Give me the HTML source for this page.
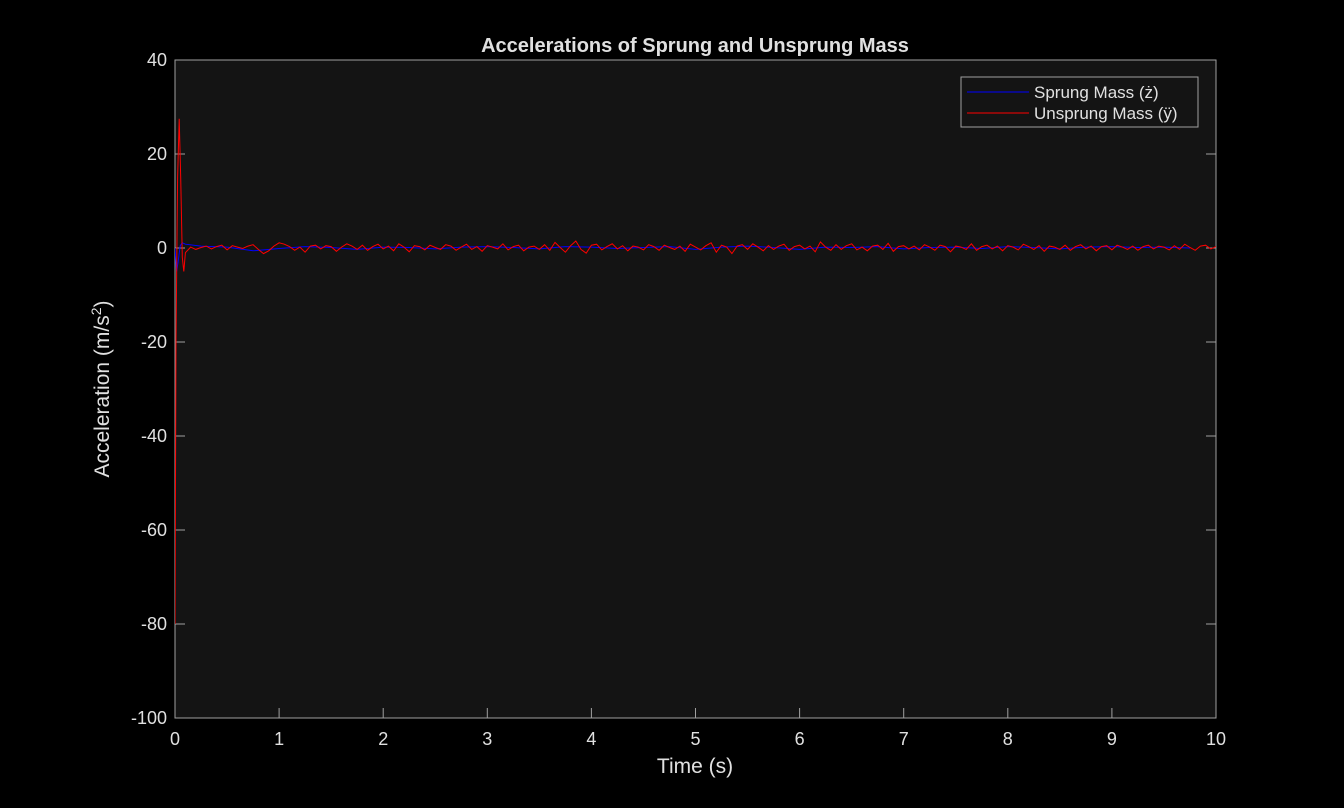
<!DOCTYPE html>
<html><head><meta charset="utf-8"><style>
body{margin:0;background:#000;width:1344px;height:808px;overflow:hidden;font-family:"Liberation Sans",Arial,sans-serif}
svg{display:block}
svg text{font-family:"Liberation Sans",Arial,sans-serif;fill:#e0e0e0}
</style></head><body>
<svg id="chart" width="1344" height="808" xmlns="http://www.w3.org/2000/svg">
<defs><clipPath id="clip"><rect x="175" y="60" width="1041" height="658"/></clipPath></defs>
<rect x="0" y="0" width="1344" height="808" fill="#000"/>
<rect x="175" y="60" width="1041" height="658" fill="#141414" stroke="#a0a0a0" stroke-width="1"/>
<g id="ticks"></g>
<g id="series" clip-path="url(#clip)"></g>
<text x="695" y="52" text-anchor="middle" font-size="20" font-weight="bold">Accelerations of Sprung and Unsprung Mass</text>
<text x="695" y="773" text-anchor="middle" font-size="21">Time (s)</text>
<text transform="translate(109,389) rotate(-90)" text-anchor="middle" font-size="21">Acceleration  (m/s<tspan baseline-shift="super" font-size="14">2</tspan>)</text>
<g>
<rect x="961" y="77" width="237" height="50" fill="#141414" stroke="#a0a0a0" stroke-width="1"/>
<line x1="967" y1="92" x2="1029" y2="92" stroke="#0000ff" stroke-width="1"/>
<text x="1034" y="98" font-size="17">Sprung Mass (ż)</text>
<line x1="967" y1="113" x2="1029" y2="113" stroke="#ff0000" stroke-width="1"/>
<text x="1034" y="119" font-size="17">Unsprung Mass (ÿ)</text>
</g>
</svg>
<script>
const xTicks=[0,1,2,3,4,5,6,7,8,9,10];
const yTicks=[40,20,0,-20,-40,-60,-80,-100];
const redStartT=[0,0.01,0.025,0.04,0.055,0.07,0.085,0.1];
const redStartV=[-80,-20,15,27.5,15,-2,-5,-1];
const blueStartT=[0,0.015,0.03,0.05,0.07,0.1];
const blueStartV=[0,-5,-3,0.5,1.1,0.8];
const redV=[0.2,-0.3,0.1,0.4,-0.2,0.3,0.6,-0.4,0.5,0.2,-0.1,0.4,0.7,-0.3,-1.2,-0.6,0.4,1.1,0.8,0.3,-0.5,0.2,-0.9,0.4,0.6,-0.2,0.5,0.3,-0.7,0.2,0.9,0.4,-0.3,0.6,-0.5,0.3,0.8,-0.2,0.4,-0.6,0.9,0.2,-0.8,0.5,0.3,-0.4,0.6,0.1,-0.3,0.7,0.4,-0.5,0.2,0.8,-0.3,0.3,-0.7,0.5,0.2,-0.2,0.9,-0.4,0.3,0.6,-0.6,0.2,0.4,-0.3,0.7,-0.5,1.2,0.1,-0.9,0.5,1.5,-0.3,-1.1,0.6,0.8,-0.4,0.3,0.9,-0.2,0.5,-0.6,0.4,0.2,-0.4,0.7,0.3,-0.5,0.6,0.1,-0.3,0.4,-0.7,0.8,0.2,-0.4,0.5,1.1,-0.9,0.6,0.2,-1.2,0.4,0.7,-0.3,0.9,0.2,-0.6,0.5,-0.3,0.4,0.8,-0.5,0.3,0.6,-0.2,0.4,-0.8,1.3,0.2,-0.5,0.7,-0.3,0.5,0.9,-0.4,0.2,-0.6,0.4,0.6,-0.3,1.0,-0.7,0.3,0.5,-0.2,0.4,-0.4,0.7,0.2,-0.5,0.6,0.3,-0.8,0.4,0.2,-0.3,0.9,-0.5,0.3,0.6,-0.2,0.4,-0.6,0.5,0.2,-0.4,0.8,0.3,-0.3,0.5,-0.7,0.4,0.2,-0.3,0.6,-0.5,0.3,0.7,-0.2,0.4,-0.6,0.3,0.5,-0.4,0.6,0.2,-0.3,0.4,-0.5,0.3,0.6,-0.2,0.4,0.2,-0.4,0.5,-0.3,0.8,0.1,-0.5,0.4,0.6,-0.2,0.3];
const blueV=[0.4,0.2,-0.6,-0.1,0.3,0.1,-0.3,0.2,0.1,-0.2,0.2,0.3,0.1,-0.2,0.3,0.2,-0.1,0.1,0.3,-0.3,0.2,0.4,0.1,-0.3,0.2,0.1,0.3,-0.2,0.1,0.2,-0.1,0.3,0.1,-0.2,0.2,0.3,0.1,0.2,0.0];
const X=t=>175+t*104.1;
const Y=v=>60+(40-v)*4.7;
const NS='http://www.w3.org/2000/svg';
const tg=document.getElementById('ticks');
xTicks.forEach(t=>{
 const l=document.createElementNS(NS,'line');
 
 
 l.setAttribute('x1',X(t));l.setAttribute('x2',X(t));l.setAttribute('y1',718);l.setAttribute('y2',708);
 l.setAttribute('stroke','#a0a0a0');tg.appendChild(l);
 const s=document.createElementNS(NS,'text');
 
 
 s.setAttribute('x',X(t));s.setAttribute('y',745);s.setAttribute('text-anchor','middle');s.setAttribute('font-size','18');
 s.textContent=t;tg.appendChild(s);
});
yTicks.forEach(v=>{
 const l=document.createElementNS(NS,'line');
 
 
 l.setAttribute('x1',175);l.setAttribute('x2',185);l.setAttribute('y1',Y(v));l.setAttribute('y2',Y(v));
 l.setAttribute('stroke','#a0a0a0');tg.appendChild(l);
 const l2=document.createElementNS(NS,'line');
 
 
 l2.setAttribute('x1',1206);l2.setAttribute('x2',1216);l2.setAttribute('y1',Y(v));l2.setAttribute('y2',Y(v));
 l2.setAttribute('stroke','#a0a0a0');tg.appendChild(l2);
 const s=document.createElementNS(NS,'text');
 
 
 s.setAttribute('x',167);s.setAttribute('y',Y(v)+6);s.setAttribute('text-anchor','end');s.setAttribute('font-size','18');
 s.textContent=v;tg.appendChild(s);
});
const sg=document.getElementById('series');
function path(ts,vs,color,name){
 const pts=ts.map((t,i)=>[t,vs[i]]).filter(p=>p[0]<=10.001);
 const p=document.createElementNS(NS,'path');
 
 
 p.setAttribute('d',pts.map((q,i)=>(i?'L':'M')+X(q[0]).toFixed(1)+','+Y(q[1]).toFixed(1)).join(''));
 p.setAttribute('fill','none');p.setAttribute('stroke',color);p.setAttribute('stroke-width','1');
 sg.appendChild(p);
}
const bT=blueStartT.concat(blueV.map((v,i)=>0.25+i*0.25));
const bVals=blueStartV.concat(blueV);
path(bT,bVals,'#0000ff','sprung-mass-line');
const rT=redStartT.concat(redV.map((v,i)=>0.15+i*0.05));
const rVals=redStartV.concat(redV);
path(rT,rVals,'#ff0000','unsprung-mass-line');
</script>
</body></html>
